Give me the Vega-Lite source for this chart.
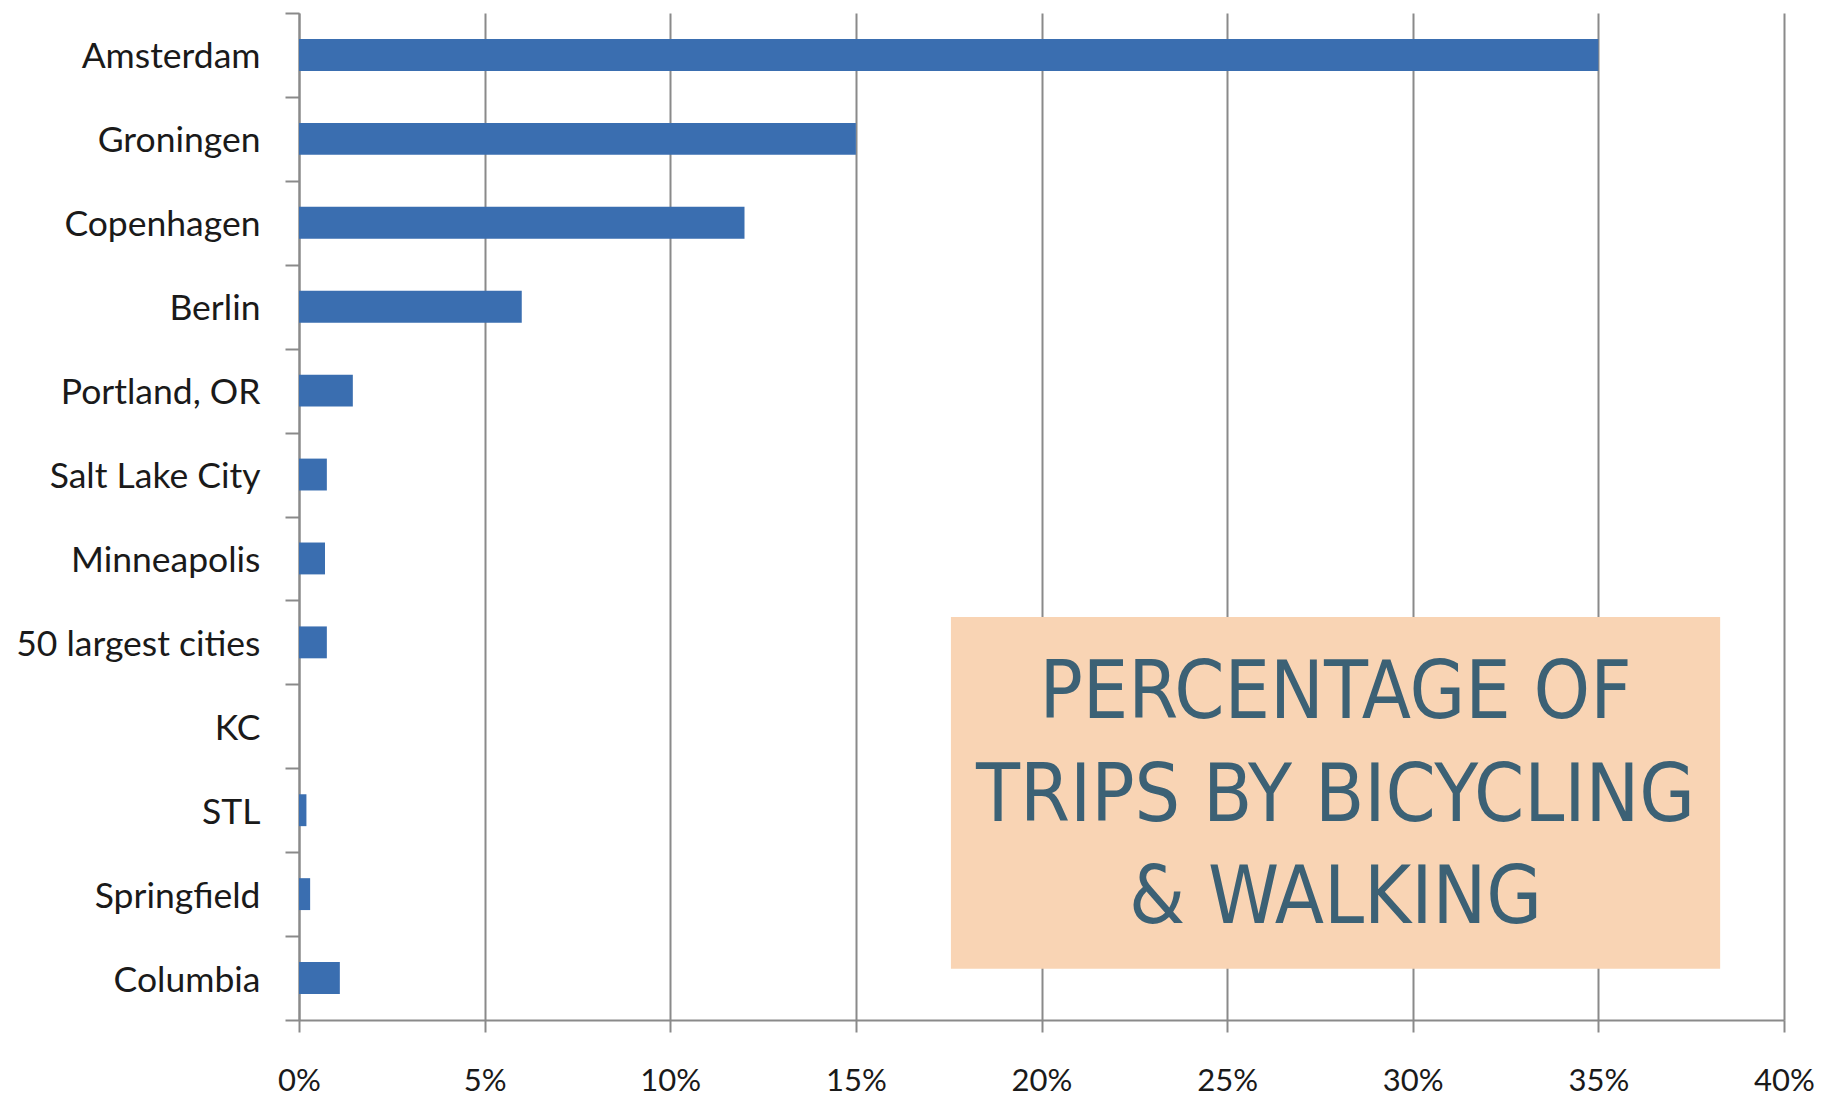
{
  "$schema": "https://vega.github.io/schema/vega-lite/v6.json",
  "autosize": {"type": "none"},
  "padding": {"left": 299, "top": 13, "right": 53, "bottom": 78},
  "width": 1485,
  "height": 1007,
  "background": "white",
  "config": {
    "view": {"stroke": null},
    "axis": {
      "labelFont": "Lato",
      "labelFontSize": 34,
      "labelColor": "#1a1a1a",
      "labelLimit": 400,
      "domainColor": "#8a8a8a",
      "domainWidth": 2,
      "tickColor": "#8a8a8a",
      "tickWidth": 2,
      "gridColor": "#8a8a8a",
      "gridWidth": 2,
      "gridOpacity": 1,
      "title": null
    }
  },
  "datasets": {
    "cities": [
      {"city": "Amsterdam", "pct": 35},
      {"city": "Groningen", "pct": 15},
      {"city": "Copenhagen", "pct": 12},
      {"city": "Berlin", "pct": 6},
      {"city": "Portland, OR", "pct": 1.45},
      {"city": "Salt Lake City", "pct": 0.75},
      {"city": "Minneapolis", "pct": 0.7},
      {"city": "50 largest cities", "pct": 0.75},
      {"city": "KC", "pct": 0},
      {"city": "STL", "pct": 0.2},
      {"city": "Springfield", "pct": 0.3},
      {"city": "Columbia", "pct": 1.1}
    ],
    "box": [
      {"x1": 17.56, "x2": 38.28, "y1": 7.197, "y2": 11.39}
    ],
    "lines": [
      {"line": "PERCENTAGE OF", "xc": 27.92, "yb": 8.40},
      {"line": "TRIPS BY BICYCLING", "xc": 27.92, "yb": 9.63},
      {"line": "& WALKING", "xc": 27.92, "yb": 10.84}
    ]
  },
  "layer": [
    {
      "data": {"name": "cities"},
      "mark": {"type": "bar", "color": "#3a6eb0", "height": {"band": 0.38}},
      "encoding": {
        "y": {
          "field": "city",
          "type": "nominal",
          "sort": null,
          "scale": {"paddingInner": 0, "paddingOuter": 0},
          "axis": {
            "tickBand": "extent",
            "tickSize": 14,
            "labelPadding": 25,
            "labelFontSize": 35.5,
            "labelOffset": 2,
            "grid": false
          }
        },
        "x": {
          "field": "pct",
          "type": "quantitative",
          "scale": {"domain": [0, 40], "nice": false},
          "axis": {
            "values": [0, 5, 10, 15, 20, 25, 30, 35, 40],
            "labelExpr": "datum.value + '%'",
            "grid": true,
            "tickSize": 12,
            "labelFontSize": 31,
            "labelPadding": 34,
            "labelFlush": false
          }
        }
      }
    },
    {
      "data": {"name": "box"},
      "mark": {"type": "rect", "color": "#f9d4b4"},
      "encoding": {
        "x": {"field": "x1", "type": "quantitative"},
        "x2": {"field": "x2"},
        "y": {"field": "y1", "type": "quantitative", "scale": {"domain": [0, 12], "reverse": true, "nice": false, "zero": false}, "axis": null},
        "y2": {"field": "y2"}
      }
    },
    {
      "data": {"name": "lines"},
      "mark": {
        "type": "text",
        "font": "'Liberation Sans Narrow', 'DejaVu Sans Condensed', Lato",
        "fontSize": 80,
        "color": "#3c6175",
        "align": "center",
        "baseline": "alphabetic"
      },
      "encoding": {
        "x": {"field": "xc", "type": "quantitative"},
        "y": {"field": "yb", "type": "quantitative", "scale": {"domain": [0, 12], "reverse": true, "nice": false, "zero": false}, "axis": null},
        "text": {"field": "line"}
      }
    }
  ],
  "resolve": {"scale": {"y": "independent"}}
}
